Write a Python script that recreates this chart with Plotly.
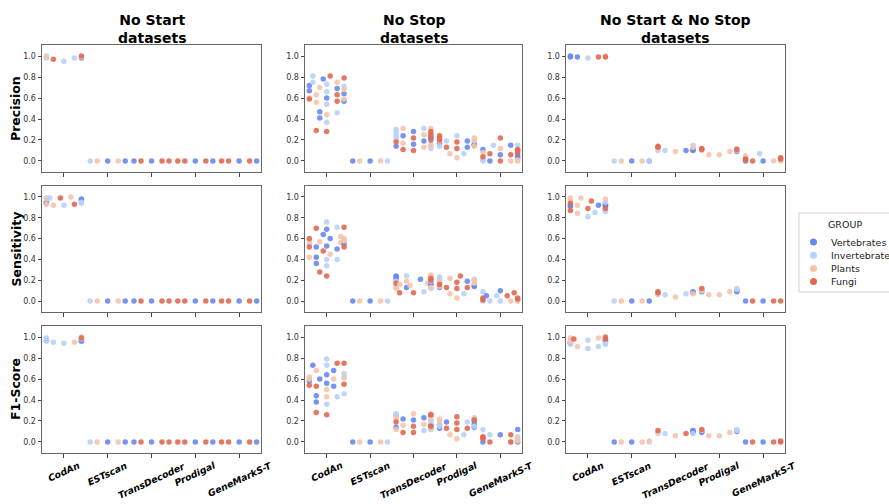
import plotly.graph_objects as go
from plotly.subplots import make_subplots

# ---------------- data ----------------
TOOLS = ["CodAn", "ESTscan", "TransDecoder", "Prodigal", "GeneMarkS-T"]
GROUP_ORDER = ["V", "I", "P", "F"]
GROUP_NAMES = {"V": "Vertebrates", "I": "Invertebrates", "P": "Plants", "F": "Fungi"}
GROUP_COLORS = {"V": "#6788ee", "I": "#b9d0f9", "P": "#f5c4ac", "F": "#e26952"}
CONDITIONS = ["No Start<br>datasets", "No Stop<br>datasets", "No Start & No Stop<br>datasets"]
METRICS = ["Precision", "Sensitivity", "F1-Score"]
LEGEND_TITLE = "GROUP"
N_SUBSETS = 11  # dodge slots within each tool
Y_TICKS = [0.0, 0.2, 0.4, 0.6, 0.8, 1.0]

# records: (tool index, subset slot, group, values)
NS_ZEROS = [
    (1, 0, "I", [0]), (1, 2, "P", [0]), (1, 5, "V", [0]), (1, 8, "P", [0]), (1, 10, "V", [0]),
    (2, 0, "V", [0]), (2, 2, "F", [0]), (2, 5, "V", [0]), (2, 8, "F", [0]), (2, 10, "F", [0]),
    (3, 0, "F", [0]), (3, 2, "F", [0]), (3, 5, "V", [0]), (3, 8, "F", [0]), (3, 10, "V", [0]),
    (4, 0, "F", [0]), (4, 2, "F", [0]), (4, 5, "V", [0]), (4, 8, "F", [0]), (4, 10, "V", [0]),
]

ns_precision = [
    (0, 0, "I", [.98]), (0, 0, "P", [1.0]), (0, 2, "F", [.97]), (0, 5, "I", [.95]),
    (0, 8, "I", [.98]), (0, 10, "V", [.98]), (0, 10, "P", [.99]), (0, 10, "F", [1.0]),
] + NS_ZEROS

ns_sensitivity = [
    (0, 0, "V", [.95, .94]), (0, 0, "I", [.98]), (0, 0, "P", [.99, .93]), (0, 1, "I", [.99]),
    (0, 2, "P", [.92]), (0, 4, "F", [.99]), (0, 5, "I", [.92]), (0, 7, "P", [1.0]),
    (0, 8, "F", [.93]), (0, 10, "V", [.98, .97]), (0, 10, "I", [.95, .94]),
] + NS_ZEROS

ns_f1 = [
    (0, 0, "V", [.97]), (0, 0, "I", [.99, .96]), (0, 2, "I", [.95]), (0, 5, "I", [.94]),
    (0, 8, "P", [.95]), (0, 10, "V", [.97, .96]), (0, 10, "I", [.98]), (0, 10, "P", [1.0]),
    (0, 10, "F", [.99]),
] + NS_ZEROS

NST_EST = [(1, 0, "V", [0]), (1, 2, "P", [0]), (1, 5, "V", [0]), (1, 8, "P", [0]), (1, 10, "I", [0])]

nst_precision = [
    (0, 0, "V", [.72, .67]), (0, 0, "P", [.60]), (0, 0, "F", [.59]),
    (0, 1, "I", [.81, .75]),
    (0, 2, "F", [.29]), (0, 2, "P", [.63, .56]),
    (0, 3, "P", [.70]), (0, 3, "V", [.47, .41]),
    (0, 4, "V", [.78]),
    (0, 5, "V", [.60]), (0, 5, "F", [.28]), (0, 5, "I", [.73, .66, .54, .37]), (0, 5, "P", [.44]),
    (0, 6, "F", [.81]),
    (0, 8, "V", [.69]), (0, 8, "F", [.63, .57]), (0, 8, "P", [.75]), (0, 8, "I", [.46]),
    (0, 10, "F", [.79]), (0, 10, "I", [.71]), (0, 10, "P", [.68, .59]), (0, 10, "V", [.64, .57]),
    (2, 0, "I", [.30, .28, .25, .23, .21]), (2, 0, "F", [.18]), (2, 0, "V", [.14]),
    (2, 2, "P", [.31, .17]), (2, 2, "V", [.24]), (2, 2, "F", [.11]),
    (2, 5, "V", [.28, .16]), (2, 5, "F", [.22, .10]),
    (2, 8, "I", [.31]), (2, 8, "P", [.25, .13]), (2, 8, "V", [.19]),
    (2, 10, "P", [.31, .26, .14]), (2, 10, "F", [.28, .25, .20]), (2, 10, "V", [.23, .22]),
    (2, 10, "I", [.16, .12]),
    (3, 0, "F", [.24, .22, .20]), (3, 0, "V", [.17]), (3, 0, "P", [.19]), (3, 0, "I", [.14]),
    (3, 2, "F", [.13]), (3, 2, "I", [.19]),
    (3, 3, "P", [.07]),
    (3, 5, "I", [.24]), (3, 5, "F", [.18, .12]), (3, 5, "P", [.03]),
    (3, 7, "I", [.07]),
    (3, 8, "V", [.19, .13]),
    (3, 10, "P", [.22, .20, .14]), (3, 10, "I", [.19]), (3, 10, "V", [.16, .15]),
    (4, 0, "V", [.11]), (4, 0, "P", [.08]), (4, 0, "F", [.04]), (4, 0, "I", [.02, .01, 0]),
    (4, 2, "F", [.07]), (4, 2, "V", [0]),
    (4, 3, "I", [.15]),
    (4, 5, "F", [.22, 0]), (4, 5, "P", [.12]), (4, 5, "V", [.06]),
    (4, 8, "V", [.15]), (4, 8, "F", [.06]), (4, 8, "P", [0]),
    (4, 10, "I", [.15]), (4, 10, "F", [.11, .10, .08]), (4, 10, "V", [.05, .03]), (4, 10, "P", [.01, 0]),
] + NST_EST

nst_sensitivity = [
    (0, 0, "F", [.60, .52]), (0, 0, "P", [.58, .42]), (0, 0, "I", [.55]),
    (0, 2, "V", [.52, .42, .36]), (0, 2, "F", [.70]),
    (0, 3, "F", [.28]), (0, 3, "P", [.57]),
    (0, 4, "V", [.64]), (0, 4, "F", [.48]),
    (0, 5, "V", [.69, .53]), (0, 5, "I", [.76, .40, .34]), (0, 5, "F", [.24]),
    (0, 6, "V", [.60]), (0, 6, "P", [.45]),
    (0, 8, "I", [.71, .40]), (0, 8, "V", [.50]),
    (0, 9, "P", [.62, .56]),
    (0, 10, "F", [.71, .52]), (0, 10, "P", [.60, .58]), (0, 10, "V", [.55]),
    (2, 0, "V", [.24, .23, .21]), (2, 0, "I", [.19, .14]), (2, 0, "F", [.17]), (2, 0, "P", [.16, .12]),
    (2, 1, "P", [.16]), (2, 1, "F", [.08]),
    (2, 3, "I", [.24]), (2, 3, "P", [.19]), (2, 3, "V", [.13]),
    (2, 4, "P", [.15]),
    (2, 5, "F", [.08]),
    (2, 7, "V", [.21]),
    (2, 8, "I", [.09]),
    (2, 9, "P", [.17]),
    (2, 10, "P", [.25, .24, .13]), (2, 10, "F", [.22, .20]), (2, 10, "I", [.19, .12]), (2, 10, "V", [.17, .16]),
    (3, 0, "I", [.23, .21]), (3, 0, "P", [.19, .14]), (3, 0, "V", [.18, .13]), (3, 0, "F", [.16]),
    (3, 2, "F", [.13]),
    (3, 3, "P", [.22, .07]),
    (3, 5, "F", [.18, .12]), (3, 5, "P", [.03]),
    (3, 6, "F", [.24]),
    (3, 7, "I", [.07]),
    (3, 8, "V", [.19]), (3, 8, "F", [.13]),
    (3, 10, "I", [.21, .19]), (3, 10, "P", [.20, .17]), (3, 10, "V", [.15, .14]),
    (4, 0, "I", [.09, 0]), (4, 0, "F", [.03, .01]),
    (4, 1, "V", [.05]),
    (4, 2, "I", [0]),
    (4, 4, "I", [.05]),
    (4, 5, "V", [.10]), (4, 5, "I", [0]),
    (4, 7, "F", [.05]),
    (4, 8, "P", [0]),
    (4, 9, "F", [.08]),
    (4, 10, "F", [.03, .02]), (4, 10, "P", [0]), (4, 10, "I", [0]),
] + NST_EST

nst_f1 = [
    (0, 0, "P", [.62, .60]), (0, 0, "V", [.58]), (0, 0, "F", [.54]),
    (0, 1, "V", [.73]),
    (0, 2, "F", [.28, .53]), (0, 2, "V", [.44, .38]), (0, 2, "P", [.68]),
    (0, 3, "V", [.60]),
    (0, 5, "I", [.79, .73, .36]), (0, 5, "V", [.64, .56]), (0, 5, "P", [.50, .43]), (0, 5, "F", [.26]),
    (0, 7, "P", [.60]), (0, 7, "V", [.68, .53]),
    (0, 8, "F", [.75]), (0, 8, "I", [.43]),
    (0, 10, "F", [.75, .55]), (0, 10, "I", [.65, .62, .46]), (0, 10, "P", [.61]),
    (2, 0, "I", [.27, .26]), (2, 0, "V", [.25, .14]), (2, 0, "P", [.23, .21, .12]), (2, 0, "F", [.19]),
    (2, 2, "V", [.22]), (2, 2, "P", [.16]), (2, 2, "F", [.09]),
    (2, 5, "P", [.27]), (2, 5, "V", [.21]), (2, 5, "F", [.15, .09]),
    (2, 8, "V", [.23]), (2, 8, "P", [.17]), (2, 8, "I", [.11]),
    (2, 10, "P", [.27, .22, .13]), (2, 10, "F", [.26, .15]), (2, 10, "V", [.25, .16, .13]),
    (2, 10, "I", [.20, .19, .12]),
    (3, 0, "P", [.22, .20]), (3, 0, "I", [.17, .15]), (3, 0, "V", [.16, .13]),
    (3, 2, "V", [.19]), (3, 2, "F", [.13]),
    (3, 3, "P", [.07]),
    (3, 5, "F", [.24, .18, .12]), (3, 5, "P", [.03]),
    (3, 7, "I", [.07]),
    (3, 8, "I", [.19]), (3, 8, "F", [.13]),
    (3, 10, "I", [.23, .15]), (3, 10, "P", [.22]), (3, 10, "F", [.21]), (3, 10, "V", [.20, .17, .14]),
    (4, 0, "I", [.12]), (4, 0, "F", [.05, .04, .03]), (4, 0, "V", [0]),
    (4, 2, "I", [.07]), (4, 2, "F", [0]),
    (4, 5, "V", [.07]),
    (4, 8, "P", [0]), (4, 8, "F", [.07, 0]),
    (4, 10, "V", [.12, 0]), (4, 10, "I", [.05]), (4, 10, "P", [.03, .01]),
] + NST_EST

nss_precision = [
    (0, 0, "V", [1.0, .99]), (0, 2, "V", [.99]), (0, 5, "I", [.98]), (0, 8, "F", [.99]),
    (0, 10, "P", [1.0]), (0, 10, "F", [.99]),
    (1, 0, "I", [0]), (1, 2, "P", [0]), (1, 5, "V", [0]), (1, 8, "P", [0]), (1, 10, "I", [0]), (1, 10, "V", [0]),
    (2, 0, "F", [.14, .13]), (2, 0, "P", [.12]), (2, 0, "I", [.10]), (2, 2, "I", [.10]), (2, 5, "P", [.09]),
    (2, 8, "V", [.10]), (2, 10, "I", [.15]), (2, 10, "P", [.13]), (2, 10, "V", [.11, .10]),
    (3, 0, "F", [.12, .11]), (3, 0, "P", [.10]), (3, 2, "P", [.06]), (3, 5, "P", [.06]), (3, 8, "P", [.09]),
    (3, 10, "P", [.12]), (3, 10, "F", [.11]), (3, 10, "I", [.10]), (3, 10, "V", [.09]),
    (4, 0, "P", [.05]), (4, 0, "F", [.02, .01]), (4, 0, "V", [0]), (4, 2, "F", [0]), (4, 4, "I", [.07]),
    (4, 5, "V", [0]), (4, 8, "P", [0]), (4, 10, "F", [.03, .02]), (4, 10, "P", [.01, 0]),
]

nss_sensitivity = [
    (0, 0, "P", [.99, .97]), (0, 0, "F", [.94, .87]), (0, 0, "V", [.92, .91]),
    (0, 2, "P", [.92, .84]), (0, 3, "P", [.99]), (0, 5, "F", [.89]), (0, 5, "I", [.81]),
    (0, 6, "F", [.96]), (0, 7, "I", [.85]), (0, 8, "V", [.92]),
    (0, 10, "P", [.98]), (0, 10, "I", [.95, .87, .86]), (0, 10, "V", [.93, .92, .91]), (0, 10, "F", [.89]),
    (1, 0, "I", [0]), (1, 2, "P", [0]), (1, 5, "V", [0]), (1, 8, "P", [0]), (1, 10, "V", [0]),
    (2, 0, "F", [.09, .08]), (2, 0, "P", [.07]), (2, 0, "I", [.06]), (2, 2, "I", [.06]), (2, 5, "P", [.04]),
    (2, 8, "I", [.07]), (2, 10, "V", [.09, .08]), (2, 10, "P", [.07]),
    (3, 0, "I", [.11]), (3, 0, "F", [.12]), (3, 0, "P", [.10]), (3, 0, "V", [.09]), (3, 2, "P", [.06]),
    (3, 5, "P", [.06]), (3, 8, "P", [.09]), (3, 10, "I", [.12, .11]), (3, 10, "V", [.10, .09]),
    (4, 0, "V", [0]), (4, 2, "F", [0]), (4, 5, "V", [0]), (4, 8, "F", [0]), (4, 10, "F", [0]),
]

nss_f1 = [
    (0, 0, "P", [.99, .97, .96]), (0, 0, "V", [.95, .94]), (0, 0, "I", [.93]), (0, 1, "F", [.98]),
    (0, 2, "P", [.91]), (0, 5, "I", [.97, .89]), (0, 8, "P", [.99]), (0, 8, "I", [.91]),
    (0, 10, "F", [1.0, .98]), (0, 10, "V", [.97, .96]), (0, 10, "I", [.94, .93]),
    (1, 0, "V", [0]), (1, 2, "P", [0]), (1, 5, "V", [0]), (1, 8, "P", [0]), (1, 10, "I", [0]), (1, 10, "P", [.01]),
    (2, 0, "F", [.11]), (2, 0, "P", [.09]), (2, 0, "I", [.08]), (2, 2, "I", [.08]), (2, 5, "P", [.06]),
    (2, 8, "F", [.08]), (2, 10, "V", [.11, .10, .09]), (2, 10, "I", [.08]),
    (3, 0, "F", [.12]), (3, 0, "P", [.11]), (3, 0, "V", [.10, .09]), (3, 2, "P", [.06]), (3, 5, "P", [.06]),
    (3, 8, "P", [.09]), (3, 10, "I", [.12, .11]), (3, 10, "V", [.10]),
    (4, 0, "V", [0]), (4, 2, "F", [0]), (4, 5, "V", [0]), (4, 8, "F", [0]), (4, 10, "F", [.01, 0]),
]

PANELS = [
    [ns_precision, nst_precision, nss_precision],
    [ns_sensitivity, nst_sensitivity, nss_sensitivity],
    [ns_f1, nst_f1, nss_f1],
]

# ---------------- layout geometry (pixels in 889 x 504) ----------------
W, H = 889, 504
X_PX = [(42, 261), (305, 522), (566, 785)]
Y_PX = [(45, 172), (186, 312), (326, 453)]
FONT = "DejaVu Sans"


def px(x):
    return x / W


def py(y):
    return 1 - y / H


fig = make_subplots(rows=3, cols=3)

for r in range(3):
    for c in range(3):
        cells = {}
        for tool, sub, g, vals in PANELS[r][c]:
            for v in vals:
                cells.setdefault((sub, g), []).append((TOOLS[tool], v))
        for sub in range(N_SUBSETS):
            has = False
            for g in GROUP_ORDER:
                pts = cells.get((sub, g))
                if not pts:
                    continue
                has = True
                fig.add_trace(go.Scatter(
                    x=[p[0] for p in pts], y=[p[1] for p in pts], mode="markers",
                    offsetgroup=str(sub), name=GROUP_NAMES[g], showlegend=False,
                    hoverinfo="skip",
                    marker=dict(color=GROUP_COLORS[g], size=5.5, opacity=0.9, line=dict(width=0)),
                ), row=r + 1, col=c + 1)
            if not has:
                fig.add_trace(go.Scatter(
                    x=TOOLS, y=[None] * len(TOOLS), mode="markers", offsetgroup=str(sub),
                    showlegend=False, hoverinfo="skip",
                ), row=r + 1, col=c + 1)
        fig.update_xaxes(domain=[px(X_PX[c][0]), px(X_PX[c][1])], row=r + 1, col=c + 1)
        fig.update_yaxes(domain=[py(Y_PX[r][1]), py(Y_PX[r][0])], row=r + 1, col=c + 1)

fig.update_xaxes(
    type="category", categoryorder="array", categoryarray=TOOLS, range=[-0.5, 4.5],
    showline=True, mirror=True, linecolor="#666666", linewidth=1,
    ticks="outside", ticklen=3.5, tickwidth=1, tickcolor="#444444",
    showticklabels=False, showgrid=False, zeroline=False,
)
fig.update_yaxes(
    range=[-0.105, 1.105], tickvals=Y_TICKS, ticktext=[f"{v:.1f}" for v in Y_TICKS],
    showline=True, mirror=True, linecolor="#666666", linewidth=1,
    ticks="outside", ticklen=3.5, tickwidth=1, tickcolor="#444444",
    tickfont=dict(size=8, color="#333333", family=FONT), showgrid=False, zeroline=False,
)

ann = []
shapes = []
for c, title in enumerate(CONDITIONS):
    cx = px((X_PX[c][0] + X_PX[c][1]) / 2)
    ann.append(dict(
        text="<b>" + title.replace("<br>", "</b><br><b>") + "</b>", x=cx, y=py(29),
        xref="paper", yref="paper", xanchor="center", yanchor="middle", showarrow=False,
        font=dict(size=14, family=FONT, color="black"),
    ))
for r, metric in enumerate(METRICS):
    ann.append(dict(
        text=f"<b>{metric}</b>", x=px(15.5), y=py((Y_PX[r][0] + Y_PX[r][1]) / 2),
        xref="paper", yref="paper", xanchor="center", yanchor="middle", textangle=-90,
        showarrow=False, font=dict(size=12.5, family=FONT, color="black"),
    ))
for c in range(3):
    xref = f"x{7 + c}"
    for i, tool in enumerate(TOOLS):
        ann.append(dict(
            text=f"<b><i>{tool}</i></b>", x=i, y=py(457), xref=xref, yref="paper",
            xanchor="center", yanchor="top", textangle=-25, showarrow=False,
            font=dict(size=9.3, family=FONT, color="black"),
        ))

# legend box (drawn to match the reference's compact legend)
shapes.append(dict(type="rect", xref="paper", yref="paper", x0=px(799), x1=px(905),
                   y0=py(292), y1=py(213), line=dict(color="#d0d0d0", width=1),
                   fillcolor="white", layer="above"))
ann.append(dict(text=LEGEND_TITLE, x=px(845), y=py(225), xref="paper", yref="paper",
                xanchor="center", yanchor="middle", showarrow=False,
                font=dict(size=9.5, family=FONT, color="#222222")))
for k, g in enumerate(GROUP_ORDER):
    yc = 242 + 13.2 * k
    shapes.append(dict(type="circle", xref="paper", yref="paper",
                       x0=px(810), x1=px(817), y0=py(yc + 3.5), y1=py(yc - 3.5),
                       fillcolor=GROUP_COLORS[g], line=dict(width=0), layer="above"))
    ann.append(dict(text=GROUP_NAMES[g], x=px(829), y=py(yc), xref="paper", yref="paper",
                    xanchor="left", yanchor="middle", showarrow=False,
                    font=dict(size=9.5, family=FONT, color="#222222")))

fig.update_layout(
    width=W, height=H, margin=dict(l=0, r=0, t=0, b=0),
    paper_bgcolor="white", plot_bgcolor="white",
    font=dict(family=FONT, color="#222222"),
    scattermode="group", scattergap=0.12,
    showlegend=False,
    annotations=ann, shapes=shapes,
)

fig.write_html(
    "out.html",
    config={"displayModeBar": False},
    post_script="document.body.style.margin='0';document.body.style.padding='0';",
)
